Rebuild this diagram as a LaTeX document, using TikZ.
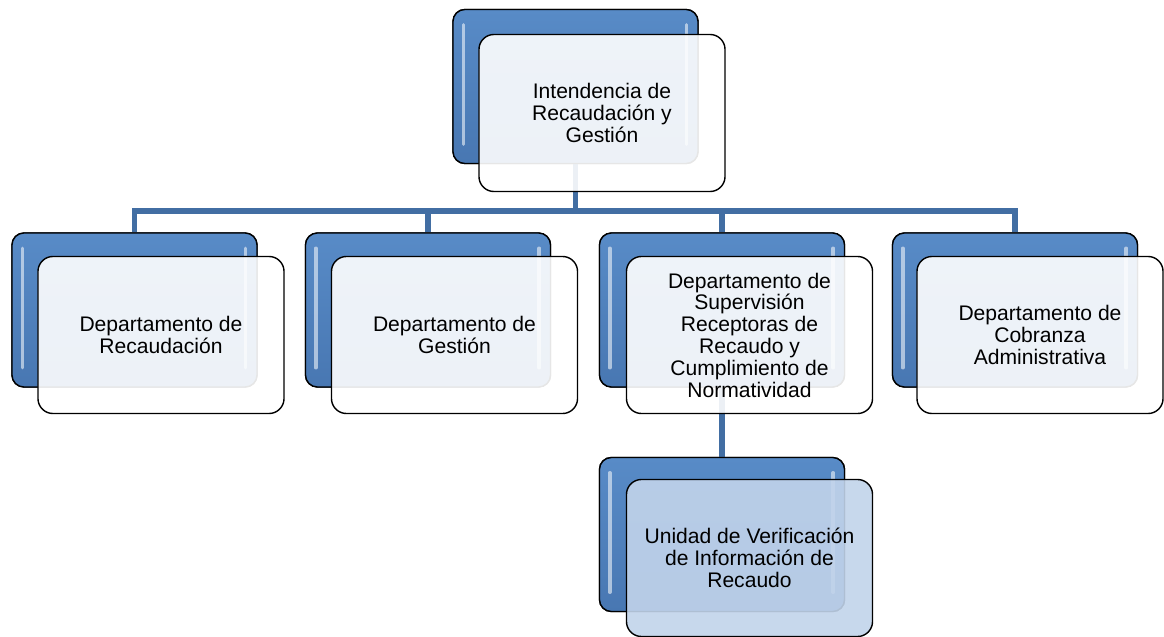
\documentclass[tikz,border=0pt]{standalone}
\usepackage{fontspec}
\setmainfont{Liberation Sans}
\definecolor{linkblue}{RGB}{66,110,163}
\definecolor{boxtop}{RGB}{88,139,199}
\definecolor{boxbottom}{RGB}{72,119,178}
\definecolor{paleblue}{RGB}{194,212,235}
\begin{document}
\begin{tikzpicture}[
  x=0.025cm, y=-0.025cm,
  back box/.style={draw=black, line width=1pt, rounded corners=0.3cm, inner sep=0pt,
    minimum width=6.125cm, minimum height=3.85cm, top color=boxtop, bottom color=boxbottom},
  front box/.style={draw=black, line width=1pt, rounded corners=0.375cm, inner sep=2pt,
    minimum width=6.15cm, minimum height=3.925cm, fill=white, fill opacity=0.9, text opacity=1,
    align=center, font={\fontsize{15}{15.5}\selectfont}},
  link/.style={draw=linkblue, line width=4.25pt},
  gloss/.style={draw=white, line width=2.5pt, opacity=0.55, line cap=round}
]
\fill[white] (0,0) rectangle (1164,637);
\useasboundingbox (0,0) rectangle (1164,637);

\coordinate (bar) at (0,211);

% back boxes
\node[back box] (intb) at (575.5,86.5) {};
\node[back box] (recb) at (134.5,310) {};
\node[back box] (gesb) at (428,310) {};
\node[back box] (supb) at (722,310) {};
\node[back box] (cobb) at (1015,310) {};
\node[back box] (uvib) at (722,534.5) {};

% connectors
\draw[link] (intb.center) -- (intb.center |- bar) -| (recb.north);
\draw[link] (intb.center) -- (intb.center |- bar) -| (gesb.north);
\draw[link] (intb.center) -- (intb.center |- bar) -| (supb.north);
\draw[link] (intb.center) -- (intb.center |- bar) -| (cobb.north);
\draw[link] (supb.center) -- (uvib.north);

% redraw back boxes over the connectors
\node[back box] at (intb) {};
\node[back box] at (recb) {};
\node[back box] at (gesb) {};
\node[back box] at (supb) {};
\node[back box] at (cobb) {};
\node[back box] at (uvib) {};

% highlights on the back boxes
\draw[gloss] ([xshift=0.275cm,yshift=-0.4cm]intb.north west) -- ([xshift=0.275cm,yshift=0.5cm]intb.south west);
\draw[gloss] ([xshift=-0.3cm,yshift=-0.4cm]intb.north east) -- ([xshift=-0.3cm,yshift=0.5cm]intb.south east);
\draw[gloss] ([xshift=0.275cm,yshift=-0.4cm]recb.north west) -- ([xshift=0.275cm,yshift=0.5cm]recb.south west);
\draw[gloss] ([xshift=-0.3cm,yshift=-0.4cm]recb.north east) -- ([xshift=-0.3cm,yshift=0.5cm]recb.south east);
\draw[gloss] ([xshift=0.275cm,yshift=-0.4cm]gesb.north west) -- ([xshift=0.275cm,yshift=0.5cm]gesb.south west);
\draw[gloss] ([xshift=-0.3cm,yshift=-0.4cm]gesb.north east) -- ([xshift=-0.3cm,yshift=0.5cm]gesb.south east);
\draw[gloss] ([xshift=0.275cm,yshift=-0.4cm]supb.north west) -- ([xshift=0.275cm,yshift=0.5cm]supb.south west);
\draw[gloss] ([xshift=-0.3cm,yshift=-0.4cm]supb.north east) -- ([xshift=-0.3cm,yshift=0.5cm]supb.south east);
\draw[gloss] ([xshift=0.275cm,yshift=-0.4cm]cobb.north west) -- ([xshift=0.275cm,yshift=0.5cm]cobb.south west);
\draw[gloss] ([xshift=-0.3cm,yshift=-0.4cm]cobb.north east) -- ([xshift=-0.3cm,yshift=0.5cm]cobb.south east);
\draw[gloss] ([xshift=0.275cm,yshift=-0.4cm]uvib.north west) -- ([xshift=0.275cm,yshift=0.5cm]uvib.south west);
\draw[gloss] ([xshift=-0.3cm,yshift=-0.4cm]uvib.north east) -- ([xshift=-0.3cm,yshift=0.5cm]uvib.south east);

% front boxes with the texts
\node[front box] (int) at (602,113) {Intendencia de\\Recaudación y\\Gestión};
\node[front box] (rec) at (161,335) {Departamento de\\Recaudación};
\node[front box] (ges) at (454.5,335) {Departamento de\\Gestión};
\node[front box] (sup) at (749.5,335) {Departamento de\\Supervisión\\Receptoras de\\Recaudo y\\Cumplimiento de\\Normatividad};
\node[front box] (cob) at (1040,335) {Departamento de\\Cobranza\\Administrativa};
\node[front box, fill=paleblue] (uvi) at (749.5,558) {Unidad de Verificación\\de Información de\\Recaudo};

\end{tikzpicture}
\end{document}
